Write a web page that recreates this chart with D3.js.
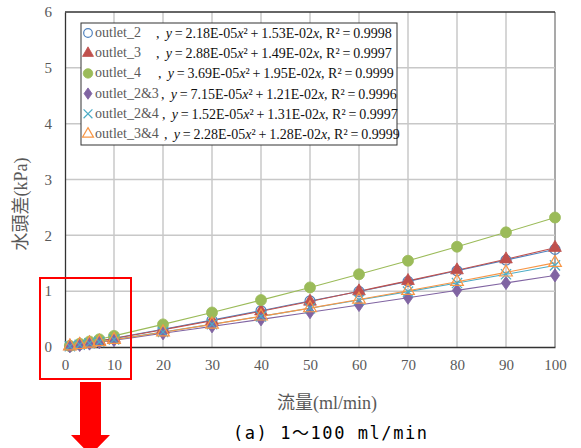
<!DOCTYPE html>
<html>
<head>
<meta charset="utf-8">
<script src="https://cdn.jsdelivr.net/npm/d3@7"></script>
<style>
  body { margin: 0; background: #fff; }
  svg { display: block; }
  .serif { font-family: "Liberation Serif", "Times New Roman", "DejaVu Serif", serif; }
  .cjk { font-family: "Liberation Serif", "Noto Sans CJK JP", serif; }
</style>
</head>
<body>
<div id="chart"></div>
<script>
// flow rate (ml/min)
const flow = [1, 3, 5, 7, 10, 20, 30, 40, 50, 60, 70, 80, 90, 100];

// head difference (kPa) per outlet
const outlet2  = [0.015, 0.046, 0.077, 0.108, 0.156, 0.318, 0.482, 0.650, 0.825, 0.995, 1.175, 1.365, 1.556, 1.748];
const outlet3  = [0.015, 0.045, 0.075, 0.106, 0.152, 0.310, 0.470, 0.640, 0.815, 1.000, 1.185, 1.376, 1.572, 1.778];
const outlet4  = [0.020, 0.059, 0.098, 0.138, 0.199, 0.405, 0.618, 0.840, 1.067, 1.303, 1.545, 1.796, 2.054, 2.319];
const outlet23 = [0.012, 0.036, 0.061, 0.085, 0.122, 0.245, 0.370, 0.495, 0.623, 0.752, 0.882, 1.014, 1.147, 1.282];
const outlet24 = [0.013, 0.039, 0.066, 0.092, 0.133, 0.268, 0.407, 0.548, 0.693, 0.841, 0.992, 1.145, 1.302, 1.462];
const outlet34 = [0.013, 0.039, 0.065, 0.091, 0.130, 0.265, 0.405, 0.549, 0.697, 0.850, 1.008, 1.170, 1.337, 1.508];

const seriesNames = ["outlet_2", "outlet_3", "outlet_4", "outlet_2&3", "outlet_2&4", "outlet_3&4"];
const seriesValues = [outlet2, outlet3, outlet4, outlet23, outlet24, outlet34];
const coefA = ["2.18E-05", "2.88E-05", "3.69E-05", "7.15E-05", "1.52E-05", "2.28E-05"];
const coefB = ["1.53E-02", "1.49E-02", "1.95E-02", "1.21E-02", "1.31E-02", "1.28E-02"];
const rSquared = ["0.9998", "0.9997", "0.9999", "0.9996", "0.9997", "0.9999"];

const xTicks = [0, 10, 20, 30, 40, 50, 60, 70, 80, 90, 100];
const yTicks = [0, 1, 2, 3, 4, 5, 6];

// look of each series (Excel default palette)
const styles = [
    { color: "#4F81BD", shape: "circle",   fill: false, size: 78 },
    { color: "#C0504D", shape: "triangle", fill: true,  size: 70 },
    { color: "#9BBB59", shape: "circle",   fill: true,  size: 95 },
    { color: "#8064A2", shape: "diamond",  fill: true,  size: 55 },
    { color: "#4BACC6", shape: "times",    fill: false, size: 70 },
    { color: "#F79646", shape: "triangle", fill: false, size: 70 }
];

const W = 581, H = 448;
const svg = d3.select("#chart").append("svg")
    .attr("width", W)
    .attr("height", H);

const x = d3.scaleLinear().domain([0, 100]).range([65, 555]);
const y = d3.scaleLinear().domain([0, 6]).range([347, 12]);

// grid
svg.append("g")
    .selectAll("line")
    .data(xTicks.filter(d => d > 0))
    .enter()
    .append("line")
    .attr("x1", d => x(d)).attr("x2", d => x(d))
    .attr("y1", y(6)).attr("y2", y(0))
    .attr("stroke", d => d === 100 ? "#8c8c8c" : "#c8c8c8")
    .attr("stroke-width", 1.5);

svg.append("g")
    .selectAll("line")
    .data(yTicks.filter(d => d > 0 && d < 6))
    .enter()
    .append("line")
    .attr("x1", x(0)).attr("x2", x(100))
    .attr("y1", d => y(d)).attr("y2", d => y(d))
    .attr("stroke", "#c8c8c8")
    .attr("stroke-width", 1.5);

// axes (labels only, no tick marks)
const xAxis = svg.append("g")
    .attr("transform", `translate(0,${y(0)})`)
    .call(d3.axisBottom(x).tickValues(xTicks).tickFormat(d3.format("d")).tickSize(0).tickPadding(12));
const yAxis = svg.append("g")
    .attr("transform", `translate(${x(0)},0)`)
    .call(d3.axisLeft(y).tickValues(yTicks).tickFormat(d3.format("d")).tickSize(0).tickPadding(13));

[xAxis, yAxis].forEach(g => {
    g.attr("font-family", null).attr("font-size", null);
    g.select(".domain").attr("stroke", "#333").attr("stroke-width", 1.3);
    g.selectAll("text")
        .attr("class", "serif")
        .attr("fill", "#595959")
        .style("font-size", "15px");
});

// top border
svg.append("line")
    .attr("x1", x(0)).attr("x2", x(100))
    .attr("y1", y(6)).attr("y2", y(6))
    .attr("stroke", "#333").attr("stroke-width", 1.3);

// axis titles
svg.append("text")
    .attr("class", "cjk")
    .attr("transform", `translate(27,204) rotate(-90)`)
    .attr("text-anchor", "middle")
    .attr("fill", "#595959")
    .style("font-size", "18px")
    .text("水頭差(kPa)");

svg.append("text")
    .attr("class", "cjk")
    .attr("x", 327)
    .attr("y", 409)
    .attr("text-anchor", "middle")
    .attr("fill", "#595959")
    .style("font-size", "18px")
    .text("流量(ml/min)");

// symbol helper
function symbolPath(shape, size) {
    const types = {
        circle: d3.symbolCircle,
        triangle: d3.symbolTriangle,
        diamond: d3.symbolDiamond,
        times: d3.symbolTimes || d3.symbolCross
    };
    return d3.symbol().type(types[shape]).size(size)();
}

function drawMarker(g, st, cx, cy) {
    const p = g.append("path")
        .attr("d", symbolPath(st.shape, st.size))
        .attr("transform", `translate(${cx},${cy})` + (st.shape === "diamond" ? " scale(1.15,0.95)" : ""));
    if (st.shape === "times") {
        p.attr("fill", "none").attr("stroke", st.color).attr("stroke-width", 1.2);
    } else if (st.fill) {
        p.attr("fill", st.color).attr("stroke", st.color).attr("stroke-width", 0.8);
    } else {
        p.attr("fill", "none").attr("stroke", st.color).attr("stroke-width", 1.2);
    }
}

// trend lines
const line = d3.line()
    .x((d, i) => x(flow[i]))
    .y(d => y(d))
    .curve(d3.curveMonotoneX);

seriesValues.forEach((vals, s) => {
    svg.append("path")
        .datum(vals)
        .attr("d", line)
        .attr("fill", "none")
        .attr("stroke", styles[s].color)
        .attr("stroke-width", 1.1);
});

// markers
seriesValues.forEach((vals, s) => {
    const g = svg.append("g");
    vals.forEach((v, i) => drawMarker(g, styles[s], x(flow[i]), y(v)));
});

// legend
const legend = svg.append("g");
legend.append("rect")
    .attr("x", 81).attr("y", 23)
    .attr("width", 316).attr("height", 122)
    .attr("fill", "#fff")
    .attr("stroke", "#333")
    .attr("stroke-width", 1);

const eqStart = [156, 156, 158, 161, 162, 164];
const thin = "\u2009";
seriesNames.forEach((name, s) => {
    const cy = 33 + s * 20.2;
    drawMarker(legend, Object.assign({}, styles[s], { size: styles[s].size * 0.75 }), 88, cy);
    legend.append("text")
        .attr("class", "serif")
        .attr("x", 95).attr("y", cy + 4)
        .attr("fill", "#595959")
        .style("font-size", "14px")
        .text(name);

    const t = legend.append("text")
        .attr("class", "serif")
        .attr("x", eqStart[s]).attr("y", cy + 5)
        .attr("fill", "#111")
        .style("font-size", "14px");
    t.append("tspan").text(`, ${thin}`);
    t.append("tspan").style("font-style", "italic").text("y");
    t.append("tspan").text(`${thin}=${thin}${coefA[s]}`);
    t.append("tspan").style("font-style", "italic").text("x");
    t.append("tspan").text(`²${thin}+${thin}${coefB[s]}`);
    t.append("tspan").style("font-style", "italic").text("x");
    t.append("tspan").text(`, R²${thin}=${thin}${rSquared[s]}`);
});

// highlight box and arrow
svg.append("rect")
    .attr("x", 40).attr("y", 278)
    .attr("width", 91).attr("height", 101)
    .attr("fill", "none")
    .attr("stroke", "#ff0000")
    .attr("stroke-width", 2);

svg.append("path")
    .attr("d", "M80,382 L101,382 L101,435 L110,435 L90.5,455 L71,435 L80,435 Z")
    .attr("fill", "#ff0000");

// caption
svg.append("text")
    .attr("x", 233)
    .attr("y", 439)
    .attr("textLength", 194)
    .attr("lengthAdjust", "spacing")
    .attr("fill", "#000")
    .style("font-family", "'DejaVu Sans Mono', 'Noto Sans CJK JP', monospace")
    .style("font-size", "17px")
    .text("(a) 1～100 ml/min");
</script>
</body>
</html>
